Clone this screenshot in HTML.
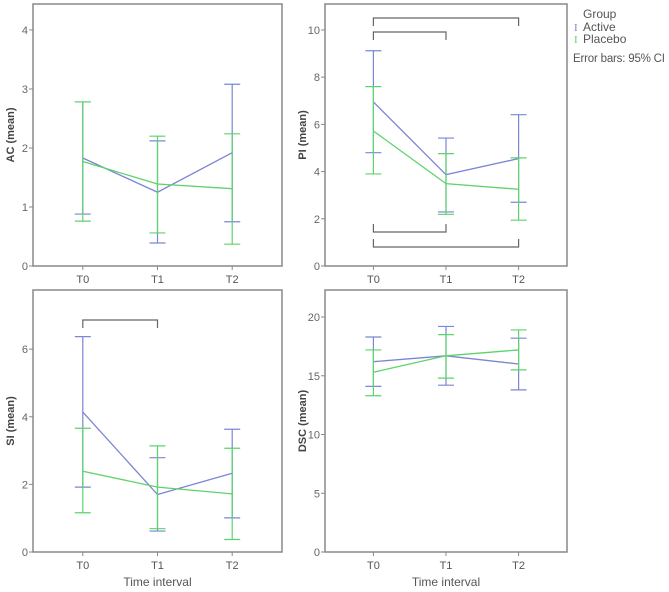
<!DOCTYPE html>
<html><head><meta charset="utf-8"><style>
body{margin:0;background:#fff;width:669px;height:592px;overflow:hidden}
svg{display:block;font-family:"Liberation Sans",Arial,sans-serif}
</style></head><body>
<svg id="c" width="669" height="592">
<g font-size="12" fill="#555">
<text x="583" y="18">Group</text>
<text x="574" y="31" fill="#7b86d4" font-size="11" font-family="Liberation Serif">I</text>
<text x="583" y="31">Active</text>
<text x="574" y="43" fill="#5cd46a" font-size="11" font-family="Liberation Serif">I</text>
<text x="583" y="43">Placebo</text>
<text x="573" y="62" font-size="11.5" textLength="92">Error bars: 95% CI</text>
</g>
</svg>
<script>
const categories = ["T0","T1","T2"];
const acActive = [1.83,1.25,1.92], acActiveLo=[0.88,0.39,0.75], acActiveHi=[2.78,2.12,3.08];
const acPlacebo = [1.77,1.39,1.31], acPlaceboLo=[0.76,0.56,0.37], acPlaceboHi=[2.78,2.20,2.24];
const piActive = [6.95,3.87,4.55], piActiveLo=[4.8,2.29,2.7], piActiveHi=[9.12,5.42,6.41];
const piPlacebo = [5.72,3.49,3.25], piPlaceboLo=[3.9,2.19,1.94], piPlaceboHi=[7.6,4.76,4.58];
const siActive = [4.14,1.70,2.33], siActiveLo=[1.92,0.62,1.01], siActiveHi=[6.37,2.79,3.63];
const siPlacebo = [2.39,1.92,1.72], siPlaceboLo=[1.16,0.69,0.37], siPlaceboHi=[3.66,3.14,3.07];
const dscActive = [16.2,16.7,16.0], dscActiveLo=[14.1,14.2,13.8], dscActiveHi=[18.3,19.2,18.2];
const dscPlacebo = [15.3,16.7,17.2], dscPlaceboLo=[13.3,14.8,15.5], dscPlaceboHi=[17.2,18.5,18.9];
const acTicks=[0,1,2,3,4], piTicks=[0,2,4,6,8,10], siTicks=[0,2,4,6], dscTicks=[0,5,10,15,20];

const NS="http://www.w3.org/2000/svg", svg=document.getElementById('c');
const BLUE="#7b86d4", GREEN="#5cd46a", AX="#888";
function el(t,a,p){const e=document.createElementNS(NS,t);for(const k in a)e.setAttribute(k,a[k]);(p||svg).appendChild(e);return e;}
function panel(name,x0,x1,y0,y1,yMax,ticks,label,xTitle,series,brackets){
  const g=el('g',{});
  
  
  const ys=v=>y1-(v/yMax)*(y1-y0);
  const w=x1-x0, xs=i=>x0+w*(0.2+0.3*i);
  const box=el('rect',{x:x0,y:y0,width:w,height:y1-y0,fill:'none',stroke:AX,'stroke-width':1.5},g);
  
  
  ticks.forEach(t=>{
    el('line',{x1:x0-4,x2:x0,y1:ys(t),y2:ys(t),stroke:AX},g);
    const tx=el('text',{x:x0-5,y:ys(t)+4,'text-anchor':'end','font-size':11,fill:'#666'},g);tx.textContent=t;
    
    
  });
  categories.forEach((c,i)=>{
    el('line',{x1:xs(i),x2:xs(i),y1:y1,y2:y1+4,stroke:AX},g);
    const tx=el('text',{x:xs(i),y:y1+17,'text-anchor':'middle','font-size':11,fill:'#555'},g);tx.textContent=c;
    
    
  });
  const yl=el('text',{x:0,y:0,'text-anchor':'middle','font-size':11,'font-weight':'bold',fill:'#444',transform:`translate(${x0-19},${(y0+y1)/2}) rotate(-90)`},g);
  yl.textContent=label+'  (mean)';
  
  
  if(xTitle){const xt=el('text',{x:(x0+x1)/2,y:y1+34,'text-anchor':'middle','font-size':12,fill:'#555'},g);xt.textContent='Time interval';
    
    }
  series.forEach(s=>{
    s.lo.forEach((l,i)=>{
      const e=el('path',{d:`M${xs(i)-8},${ys(s.hi[i])}H${xs(i)+8}M${xs(i)},${ys(s.hi[i])}V${ys(l)}M${xs(i)-8},${ys(l)}H${xs(i)+8}`,stroke:s.c,'stroke-width':1.2,fill:'none'},g);
      
      
    });
    const ln=el('polyline',{points:s.m.map((v,i)=>xs(i)+','+ys(v)).join(' '),stroke:s.c,'stroke-width':1.3,fill:'none'},g);
    
    
  });
  (brackets||[]).forEach(b=>{
    const [a,c,y,dir]=b;
    const e=el('path',{d:`M${xs(a)},${y+8*dir}V${y}H${xs(c)}V${y+8*dir}`,stroke:'#666','stroke-width':1.2,fill:'none'},g);
    
    
  });
}
panel('ac',33,282,4,266,4.44,acTicks,'AC',false,[
 {n:'active',c:BLUE,m:acActive,lo:acActiveLo,hi:acActiveHi},
 {n:'placebo',c:GREEN,m:acPlacebo,lo:acPlaceboLo,hi:acPlaceboHi}]);
panel('pi',325,567,4,266,11.1,piTicks,'PI',false,[
 {n:'active',c:BLUE,m:piActive,lo:piActiveLo,hi:piActiveHi},
 {n:'placebo',c:GREEN,m:piPlacebo,lo:piPlaceboLo,hi:piPlaceboHi}],
 [[0,2,18,1],[0,1,32,1],[0,1,232,-1],[0,2,247,-1]]);
panel('si',33,282,290,552,7.75,siTicks,'SI',true,[
 {n:'active',c:BLUE,m:siActive,lo:siActiveLo,hi:siActiveHi},
 {n:'placebo',c:GREEN,m:siPlacebo,lo:siPlaceboLo,hi:siPlaceboHi}],
 [[0,1,320,1]]);
panel('dsc',325,567,290,552,22.3,dscTicks,'DSC',true,[
 {n:'active',c:BLUE,m:dscActive,lo:dscActiveLo,hi:dscActiveHi},
 {n:'placebo',c:GREEN,m:dscPlacebo,lo:dscPlaceboLo,hi:dscPlaceboHi}]);
</script>
</body></html>
